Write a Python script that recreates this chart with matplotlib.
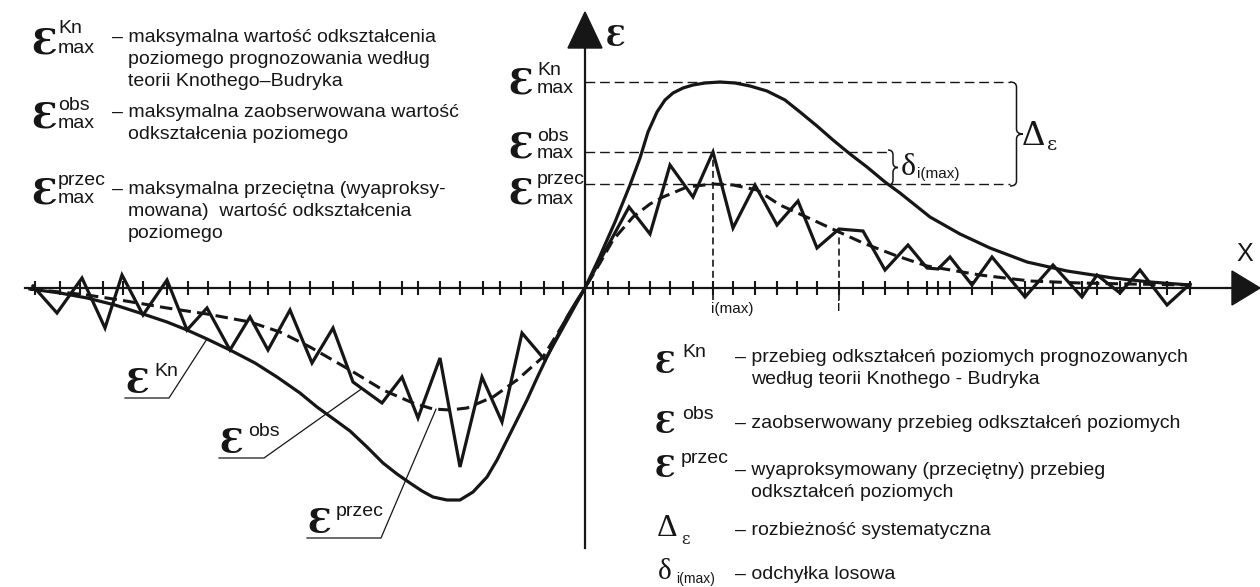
import numpy as np
import matplotlib
matplotlib.use("Agg")
import matplotlib.pyplot as plt
from matplotlib.path import Path
from matplotlib.patches import PathPatch, Polygon

## Data (x: position along the profile, y: horizontal strain, arbitrary units)
kn_x = [-555, -525, -498, -470, -442, -418, -398, -378, -355, -330, -308, -285, -268, -250, -235,
        -218, -202, -188, -175, -163, -152, -138, -125, -112, -98, -88, -78, -68, -58, -48, -38,
        -28, -18, -9, 0, 15, 30, 45, 55, 63, 72, 80, 88, 98, 108, 120, 135, 150, 165, 182, 200,
        215, 232, 248, 265, 282, 300, 315, 345, 375, 405, 442, 482, 528, 565, 605]
kn_y = [-1, -5, -10, -17, -26, -34, -42, -51, -62, -75, -89, -105, -119, -132, -143,
        -159, -175, -186, -195, -203, -209, -212, -212, -204, -189, -172, -152, -132, -112, -90, -69,
        -49, -29, -14, 0, 32, 66, 103, 130, 156, 176, 188, 195, 200, 203, 205, 206, 205, 202, 197, 188,
        176, 162, 148, 134, 121, 106, 95, 71, 54, 40, 26, 17, 10, 6, 3]

obs_x = [-552, -528, -503, -480, -463, -442, -418, -398, -378, -355, -335, -317, -295, -273, -252,
         -232, -203, -183, -167, -145, -125, -103, -83, -63, -40, 0, 44, 65, 85, 108, 128, 148, 170,
         192, 213, 232, 254, 278, 300, 323, 342, 353, 365, 387, 407, 440, 468, 497, 512, 535, 555,
         582, 605]
obs_y = [2, -25, 10, -40, 13, -27, 8, -42, -20, -62, -29, -62, -22, -75, -40,
         -94, -115, -89, -130, -70, -179, -89, -134, -45, -72, 0, 81, 54, 123, 91, 136, 60, 103,
         63, 87, 40, 59, 57, 18, 43, 20, 19, 31, 3, 31, -9, 23, -9, 13, -5, 18,
         -17, 4]

przec_x = [-555, -525, -498, -465, -418, -378, -335, -305, -275, -235, -202, -172, -152, -135, -118,
           -92, -68, -42, -18, 0, 15, 28, 48, 65, 78, 102, 128, 148, 172, 195, 228, 254, 278, 312,
           342, 395, 445, 495, 545, 605]
przec_y = [-1, -4, -7, -12, -20, -26, -34, -44, -59, -82, -102, -115, -121, -122, -120,
           -109, -92, -69, -30, 0, 25, 48, 71, 84, 91, 101, 104, 103, 98, 83, 68, 56, 45, 32,
           22, 13, 7, 5, 4, 3]

# measurement points marked on the x axis
tick_x = [-550, -525, -505, -482, -462, -442, -418, -397, -377, -355, -335, -317, -295, -275, -252,
          -232, -205, -183, -167, -145, -125, -102, -85, -64, -41, -22,
          8, 23, 44, 65, 85, 108, 128, 148, 170, 192, 212, 232, 254, 278, 300, 323, 342, 353, 365,
          387, 407, 440, 468, 497, 512, 535, 555, 582, 605]
i_point = 36  # index in obs of the point marked "i"

## Initialize
plt.rcParams['lines.scale_dashes'] = False
INK = '#161616'
SANS = ['Liberation Sans', 'DejaVu Sans']
SERIF = ['Liberation Serif', 'DejaVu Serif']
EPS = ['DejaVu Serif']
FS = 14
X0, Y0 = 585, 288


def P(px, py):
    # picture position -> axes units
    return px - X0, Y0 - py


def brace(ax, px, py_top, py_bot, w):
    x, yt = P(px, py_top)
    _, yb = P(px, py_bot)
    xm, ym, r = x + w / 2, (yt + yb) / 2, 5
    verts = [(x, yt), (xm, yt), (xm, yt - r), (xm, ym + r), (xm, ym), (x + w, ym),
             (xm, ym), (xm, ym - r), (xm, yb + r), (xm, yb), (x, yb)]
    codes = [Path.MOVETO, Path.CURVE3, Path.CURVE3, Path.LINETO, Path.CURVE3, Path.CURVE3,
             Path.CURVE3, Path.CURVE3, Path.LINETO, Path.CURVE3, Path.CURVE3]
    ax.add_patch(PathPatch(Path(verts, codes), fill=False, lw=1.1, ec=INK))


def txt(px, py, s, size=FS, family=SANS, **kw):
    ax.text(*P(px, py), s, fontsize=size, family=family, color=INK, va='baseline', ha='left', **kw)


def eps(px, py, size):
    txt(px, py, 'Ɛ', size, EPS, fontweight='bold')


def desc(px, py, lines, step=22):
    txt(px, py, '– ' + lines[0])
    for k, line in enumerate(lines[1:], 1):
        txt(px + 16, py + k * step, line)


fig = plt.figure(figsize=(12.6, 5.87), dpi=100)
ax = fig.add_axes([0, 0, 1, 1])
ax.set_xlim(-X0, 1260 - X0)
ax.set_ylim(Y0 - 587, Y0)
ax.axis('off')

## Axes with arrows and measurement ticks
ax.plot(*zip(P(25, 288), P(1236, 288)), color=INK, lw=1.6)
ax.plot(*zip(P(585, 548), P(585, 45)), color=INK, lw=1.6)
ax.add_patch(Polygon([P(585, 12), P(568, 48), P(602, 48)], closed=True, color=INK))
ax.add_patch(Polygon([P(1260, 288), P(1232, 271), P(1232, 305)], closed=True, color=INK))
ax.vlines(tick_x, -7, 7, color=INK, lw=1.5)

## Curves
ax.plot(kn_x, kn_y, color=INK, lw=2.3, solid_joinstyle='round')
ax.plot(obs_x, obs_y, color=INK, lw=2.3, solid_joinstyle='miter')
ax.plot(przec_x, przec_y, color=INK, lw=2.2, dashes=(9, 4.5))

## Reference lines for maxima
kn_max, obs_max, przec_max = max(kn_y), max(obs_y), max(przec_y)
i_max = obs_x[int(np.argmax(obs_y))]
thin = dict(color=INK, lw=1.0, linestyles=(0, (7, 3.5)))
ax.hlines(kn_max, 0, P(1010, 0)[0], **thin)
ax.hlines(obs_max, 0, P(888, 0)[0], **thin)
ax.hlines(przec_max, 0, P(1010, 0)[0], **thin)
ax.vlines(i_max, -12, obs_max, color=INK, lw=1.2, linestyles=(0, (5, 3)))
ax.vlines(obs_x[i_point], -12, obs_y[i_point], color=INK, lw=1.2, linestyles=(0, (5, 3)))
brace(ax, 888, 150, 185, 10)
brace(ax, 1010, 82, 186, 13)

## Labels on the chart
eps(606, 46, 20)
txt(1236, 261, 'X', 18)
txt(711, 313, 'i(max)', 11)
txt(837, 311, 'i', 11)
txt(1022, 145, 'Δ', 26, SERIF)
txt(1047, 150, 'ε', 14, EPS)
txt(901, 175, 'δ', 23, SERIF)
txt(917, 178, 'i(max)', 11)

eps(508, 93, 25)
txt(537, 75, 'Kn')
txt(537, 93, 'max')
eps(508, 158, 25)
txt(537, 141, 'obs')
txt(537, 158, 'max')
eps(508, 204, 25)
txt(537, 184, 'przec')
txt(537, 204, 'max')

## Curve labels with leader lines
for (lx, ly, sup, w, cx, cy_x, cy_y) in [
        (125, 393, 'Kn', 44, 207, kn_x, kn_y),
        (219, 453, 'obs', 45, 362, obs_x, obs_y),
        (307, 533, 'przec', 74, 436, przec_x, przec_y)]:
    eps(lx, ly, 24)
    txt(lx + 29, ly - 17, sup)
    ux, uy = P(lx, ly + 5)
    cx_d = cx - X0
    ax.plot([ux, ux + w, cx_d], [uy, uy, np.interp(cx_d, cy_x, cy_y)], color=INK, lw=0.9)

## Legend, top left
eps(31, 53, 26)
txt(58, 33, 'Kn')
txt(58, 53, 'max')
desc(112, 42, ['maksymalna wartość odkształcenia', 'poziomego prognozowania według',
               'teorii Knothego–Budryka'])
eps(31, 128, 26)
txt(58, 110, 'obs')
txt(58, 128, 'max')
desc(112, 117, ['maksymalna zaobserwowana wartość', 'odkształcenia poziomego'])
eps(31, 203, 26)
txt(58, 185, 'przec')
txt(58, 203, 'max')
desc(112, 194, ['maksymalna przeciętna (wyaproksy-', 'mowana)  wartość odkształcenia', 'poziomego'])

## Legend, bottom right
eps(655, 373, 21)
txt(682, 357, 'Kn')
desc(735, 362, ['przebieg odkształceń poziomych prognozowanych', 'według teorii Knothego - Budryka'])
eps(655, 433, 21)
txt(682, 419, 'obs')
desc(735, 428, ['zaobserwowany przebieg odkształceń poziomych'])
eps(655, 477, 21)
txt(681, 463, 'przec')
desc(735, 475, ['wyaproksymowany (przeciętny) przebieg', 'odkształceń poziomych'])
txt(657, 536, 'Δ', 23, SERIF)
txt(681, 544, 'ε', 12, EPS)
desc(735, 535, ['rozbieżność systematyczna'])
txt(658, 579, 'δ', 21, SERIF)
txt(676, 583, 'i(max)', 10)
desc(735, 579, ['odchyłka losowa'])

plt.savefig('out.png', dpi=100, facecolor='white')
